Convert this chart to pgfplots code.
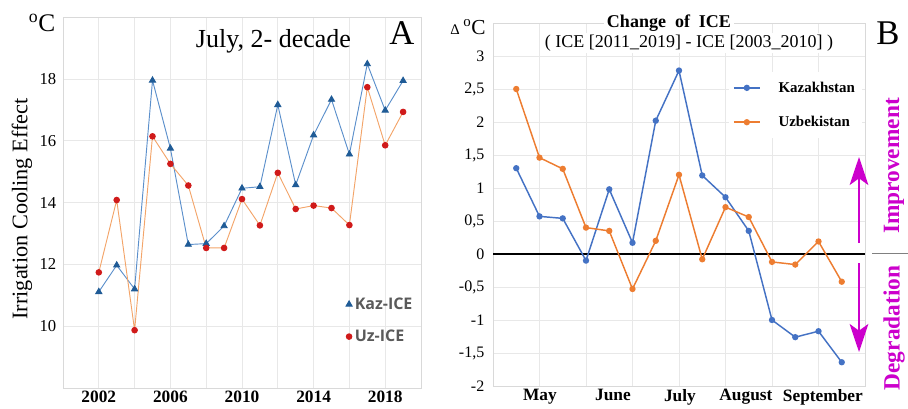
\documentclass[border=0pt]{standalone}
\usepackage{fontspec}
\setmainfont{Liberation Serif}
\newfontfamily\legsans{Open Sans}
\usepackage{pgfplots}
\usepackage{pgfplotstable}
\pgfplotsset{compat=1.18}
\usetikzlibrary{arrows.meta}
\definecolor{kazline}{HTML}{5B8FCB}
\definecolor{kazmark}{HTML}{1F5B96}
\definecolor{uzline}{HTML}{F3A469}
\definecolor{uzmark}{HTML}{D01A1A}
\definecolor{kazB}{HTML}{4472C4}
\definecolor{uzB}{HTML}{ED7D31}
\definecolor{magen}{HTML}{CC00CC}
\definecolor{legtext}{HTML}{5A5A5A}

\pgfplotstableread{
year kaz uz
2002 11.11 11.74
2003 11.97 14.08
2004 11.20 9.87
2005 17.95 16.14
2006 15.75 15.25
2007 12.64 14.55
2008 12.67 12.53
2009 13.24 12.53
2010 14.46 14.11
2011 14.51 13.26
2012 17.16 14.96
2013 14.57 13.79
2014 16.18 13.90
2015 17.33 13.82
2016 15.56 13.27
2017 18.48 17.73
2018 16.98 15.85
2019 17.94 16.93
}\dataA

\pgfplotstableread{
i kaz uz
1 1.30 2.50
2 0.57 1.46
3 0.54 1.29
4 -0.10 0.40
5 0.98 0.35
6 0.17 -0.53
7 2.02 0.20
8 2.78 1.20
9 1.19 -0.08
10 0.86 0.71
11 0.35 0.56
12 -1.00 -0.12
13 -1.26 -0.16
14 -1.17 0.19
15 -1.64 -0.42
}\dataB

\begin{document}
\begin{tikzpicture}
\useasboundingbox (0,0) rectangle (681pt,306pt);

% ---------------- Panel A ----------------
\begin{axis}[
  at={(47.25pt,15pt)}, anchor=south west,
  scale only axis, width=268.5pt, height=278.25pt,
  xmin=2000, xmax=2020, ymin=8, ymax=20,
  xtick={2002,2006,2010,2014,2018},
  minor xtick={2000,2004,2008,2012,2016,2020},
  ytick={10,12,14,16,18},
  xmajorgrids, xminorgrids, ymajorgrids,
  grid style={draw=gray!18, line width=0.5pt},
  minor grid style={draw=gray!18, line width=0.5pt},
  axis line style={draw=gray!30},
  major tick length=0pt, minor tick length=0pt,
  /pgf/number format/assume math mode=true,
  /pgf/number format/1000 sep={},
  xticklabel style={font=\bfseries\fontsize{13}{13}\selectfont, yshift=1pt},
  yticklabel style={font=\fontsize{12.5}{12.5}\selectfont, xshift=-1.5pt},
  legend style={draw=none, fill=none, at={(axis description cs:0.79,0.182)}, anchor=west,
    font=\legsans\bfseries\fontsize{12}{13}\selectfont, text=legtext, row sep=10pt,
    inner sep=0pt},
  legend cell align=left,
]
\addplot[kazline, line width=0.7pt, mark=triangle*, mark size=2.6pt,
  mark options={fill=kazmark, draw=kazmark}]
  table[x=year, y=kaz] {\dataA};
\addlegendentry{Kaz-ICE}
\addplot[uzline, line width=0.7pt, mark=*, mark size=2.1pt,
  mark options={fill=uzmark, draw=uzmark}]
  table[x=year, y=uz] {\dataA};
\addlegendentry{Uz-ICE}
\pgfplotsset{legend image code/.code={\draw[#1, only marks] plot coordinates {(0.12cm,0cm)};}}
\end{axis}

\node[font=\fontsize{19}{19}\selectfont] at (31.5pt,288.75pt) {\textsuperscript{o}C};
\node[rotate=90, font=\fontsize{16.7}{16.7}\selectfont] at (16.5pt,149.25pt) {Irrigation Cooling Effect};
\node[anchor=base, font=\fontsize{19.5}{19.5}\selectfont] at (205.1pt,270pt) {July, 2- decade};
\node[anchor=base, font=\fontsize{26}{26}\selectfont] at (301.5pt,272.25pt) {A};

% ---------------- Panel B ----------------
\begin{axis}[
  at={(369.75pt,16.5pt)}, anchor=south west,
  scale only axis, width=279pt, height=272.25pt,
  xmin=0, xmax=16, ymin=-2, ymax=3.5,
  xtick={2.02,5.16,8.04,10.88,14.19},
  xticklabels={May,June,July,August,September},
  minor xtick={0,2,...,16},
  ytick={-2,-1.5,...,3},
  xminorgrids, ymajorgrids,
  grid style={draw=gray!18, line width=0.5pt},
  minor grid style={draw=gray!18, line width=0.5pt},
  axis line style={draw=gray!30},
  major tick length=0pt, minor tick length=0pt,
  /pgf/number format/assume math mode=true,
  /pgf/number format/use comma,
  xticklabel style={font=\bfseries\fontsize{13}{13}\selectfont, yshift=1pt},
  yticklabel style={font=\fontsize{12}{12}\selectfont, xshift=-3pt},
  legend style={draw=none, fill=white, at={(axis description cs:0.634,0.774)}, anchor=west,
    font=\bfseries\fontsize{11.2}{12}\selectfont, row sep=12.5pt, inner xsep=3pt, inner ysep=5pt},
  legend cell align=left,
  legend image code/.code={\draw[mark repeat=2, mark phase=2, #1] plot coordinates {(0pt,0pt) (9.75pt,0pt) (19.5pt,0pt)};},
]
\draw[black, line width=1.6pt] (axis cs:0,0) -- (axis cs:16,0);
\addplot[kazB, line width=1.1pt, mark=*, mark size=1.8pt] table[x=i, y=kaz] {\dataB};
\addlegendentry{\hspace{11.5pt}Kazakhstan}
\addplot[uzB, line width=1.1pt, mark=*, mark size=1.8pt] table[x=i, y=uz] {\dataB};
\addlegendentry{\hspace{11.5pt}Uzbekistan}
\end{axis}

\node[fill=white, inner sep=2pt, font=\bfseries\fontsize{13.5}{13.5}\selectfont] at (501.75pt,289pt) {Change\ \ of\ \ ICE};
\node[fill=white, inner sep=1.5pt, font=\fontsize{13.5}{13.5}\selectfont] at (516.75pt,273.75pt) {( ICE [2011\_2019] - ICE [2003\_2010] )};
\node[font=\fontsize{16}{16}\selectfont] at (351pt,285.75pt) {{\fontsize{11}{11}\selectfont Δ}\,\textsuperscript{o}C};
\node[anchor=base, font=\fontsize{26}{26}\selectfont] at (666pt,272.25pt) {B};

\draw[magen, line width=1.6pt, -{Stealth[length=21pt, width=14pt, inset=5pt]}] (644.25pt,123.75pt) -- (644.25pt,188.25pt);
\draw[magen, line width=1.6pt, -{Stealth[length=21pt, width=14pt, inset=5pt]}] (644.25pt,108.75pt) -- (644.25pt,42pt);
\draw[gray, line width=0.6pt] (654pt,116.25pt) -- (681pt,116.25pt);
\node[rotate=90, text=magen, font=\bfseries\fontsize{17.5}{17.5}\selectfont] at (670.5pt,181.5pt) {Improvement};
\node[rotate=90, text=magen, font=\bfseries\fontsize{17.5}{17.5}\selectfont] at (670.5pt,60pt) {Degradation};
\end{tikzpicture}
\end{document}
